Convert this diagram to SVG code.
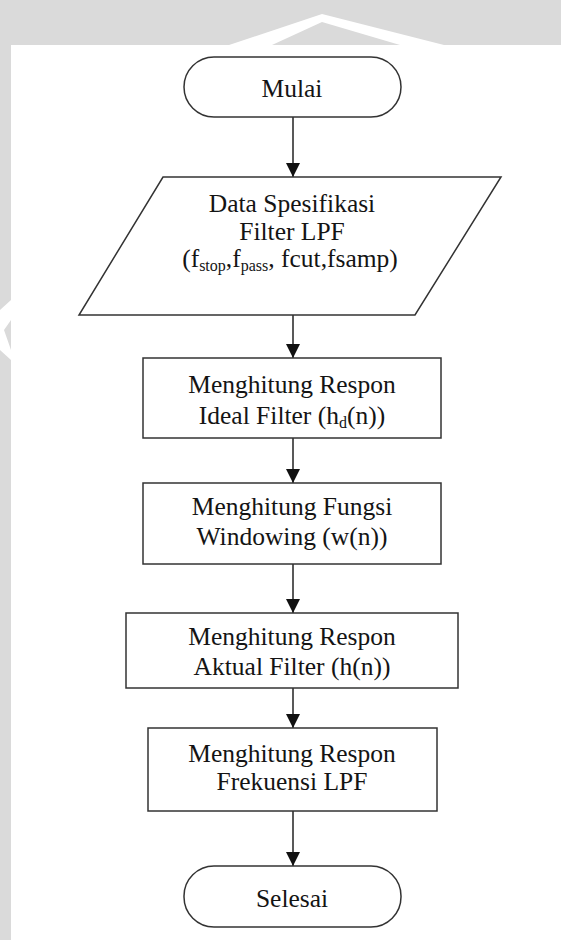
<svg xmlns="http://www.w3.org/2000/svg" width="561" height="940" viewBox="0 0 561 940">
<style>
.shape{fill:#fff;stroke:#333;stroke-width:1.5}
.conn{stroke:#222;stroke-width:1.5;fill:none}
.t{font-family:"Liberation Serif","Times New Roman",serif;font-size:25.5px;fill:#141414;text-anchor:middle}
.sub{font-size:16px}
.wm{fill:#dadada}
</style>
<defs>
<marker id="ah" markerUnits="userSpaceOnUse" markerWidth="14" markerHeight="14" viewBox="0 0 14 14" refX="14" refY="7" orient="auto">
<path d="M0,0 L14,7 L0,14 Z" fill="#111"/>
</marker>
</defs>
<rect width="561" height="940" fill="#fff"/>
<g id="watermark">
<rect class="wm" x="0" y="0" width="561" height="45"/>
<polygon fill="#fff" points="229,45 322,14 444,45 400,45 322,22 272,45"/>
<rect class="wm" x="0" y="45" width="11" height="895"/>
<polygon fill="#fff" points="0,310 11,300 11,320 4,330 11,350 11,360 0,350"/>
</g>
<g id="connectors">
<line class="conn" x1="293" y1="117" x2="293" y2="177" marker-end="url(#ah)"/>
<line class="conn" x1="293" y1="315" x2="293" y2="358" marker-end="url(#ah)"/>
<line class="conn" x1="293" y1="438" x2="293" y2="483" marker-end="url(#ah)"/>
<line class="conn" x1="293" y1="564" x2="293" y2="613" marker-end="url(#ah)"/>
<line class="conn" x1="293" y1="688" x2="293" y2="728" marker-end="url(#ah)"/>
<line class="conn" x1="293" y1="811" x2="293" y2="866" marker-end="url(#ah)"/>
</g>
<g id="mulai">
<rect class="shape" x="184" y="57" width="217" height="60" rx="30" ry="30"/>
<text class="t" x="292" y="97">Mulai</text>
</g>
<g id="data">
<polygon class="shape" points="163,177 501,177 415,315 79,315"/>
<text class="t" x="292" y="212">Data Spesifikasi</text>
<text class="t" x="292" y="240">Filter LPF</text>
<text class="t" x="290" y="267">(f<tspan class="sub" dy="4">stop</tspan><tspan dy="-4">,f</tspan><tspan class="sub" dy="4">pass</tspan><tspan dy="-4">, fcut,fsamp)</tspan></text>
</g>
<g id="ideal">
<rect class="shape" x="143" y="358" width="298" height="80"/>
<text class="t" x="292" y="393">Menghitung Respon</text>
<text class="t" x="292" y="424">Ideal Filter (h<tspan class="sub" dy="4">d</tspan><tspan dy="-4">(n))</tspan></text>
</g>
<g id="windowing">
<rect class="shape" x="143" y="483" width="298" height="81"/>
<text class="t" x="292" y="515">Menghitung Fungsi</text>
<text class="t" x="292" y="545">Windowing (w(n))</text>
</g>
<g id="aktual">
<rect class="shape" x="126" y="613" width="332" height="75"/>
<text class="t" x="292" y="645">Menghitung Respon</text>
<text class="t" x="292" y="675">Aktual Filter (h(n))</text>
</g>
<g id="frekuensi">
<rect class="shape" x="148" y="728" width="289" height="83"/>
<text class="t" x="292" y="762">Menghitung Respon</text>
<text class="t" x="292" y="790">Frekuensi LPF</text>
</g>
<g id="selesai">
<rect class="shape" x="184" y="866" width="217" height="61" rx="30" ry="30"/>
<text class="t" x="292" y="907">Selesai</text>
</g>
</svg>
